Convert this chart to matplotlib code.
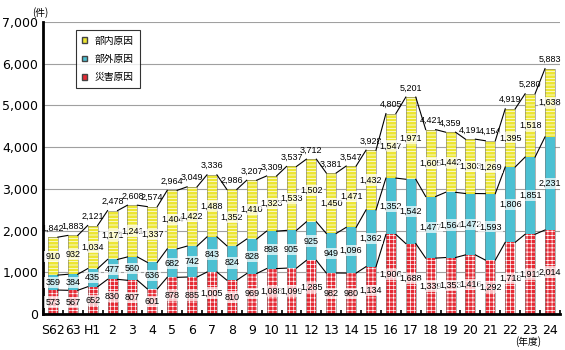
import matplotlib
matplotlib.use('Agg')
import matplotlib.pyplot as plt
from matplotlib.patches import Patch
import numpy as np

plt.rcParams['font.family'] = ['Noto Sans CJK JP', 'DejaVu Sans']
plt.rcParams['hatch.linewidth'] = 0.5

years = ['S62', '63', 'H1', '2', '3', '4', '5', '6', '7', '8', '9', '10', '11',
         '12', '13', '14', '15', '16', '17', '18', '19', '20', '21', '22', '23', '24']
disaster = [573, 567, 652, 830, 807, 601, 878, 885, 1005, 810, 969, 1088, 1099,
            1285, 982, 980, 1134, 1906, 1688, 1339, 1353, 1416, 1292, 1718, 1911, 2014]
external = [359, 384, 435, 477, 560, 636, 682, 742, 843, 824, 828, 898, 905,
            925, 949, 1096, 1362, 1352, 1542, 1477, 1564, 1472, 1593, 1806, 1851, 2231]
internal = [910, 932, 1034, 1171, 1241, 1337, 1404, 1422, 1488, 1352, 1410, 1323, 1533,
            1502, 1450, 1471, 1432, 1547, 1971, 1605, 1442, 1303, 1269, 1395, 1518, 1638]
series_names = ['部内原因', '部外原因', '災害原因']

RED = '#e62a34'
CYAN = '#4cc0d2'
YELLOW = '#ece632'
NUM_FONT = ['Liberation Sans Narrow', 'Liberation Sans', 'DejaVu Sans']

x = np.arange(len(years))
d = np.array(disaster)
e = np.array(external)
n = np.array(internal)
total = d + e + n
w = 0.5

fig = plt.figure(figsize=(5.65, 3.5), dpi=100)
ax = fig.add_axes([0.076, 0.103, 0.915, 0.834])

ax.set_ylim(0, 7000)
ax.set_xlim(-0.45, len(years) - 0.5)
ax.set_yticks(range(0, 7001, 1000))
ax.set_yticklabels([f'{v:,}' for v in range(0, 7001, 1000)], fontsize=9,
                   family='DejaVu Sans')
ax.yaxis.grid(True, color='#a0a0a0', linewidth=0.8)
ax.set_axisbelow(True)

# stacked segments, white pattern drawn over the fill
ax.bar(x, d, w, color=RED, edgecolor='white', hatch='++++', linewidth=0)
ax.bar(x, e, w, bottom=d, color=CYAN, edgecolor='white', linewidth=0)
ax.bar(x, n, w, bottom=d + e, color=YELLOW, edgecolor='white', hatch='-----', linewidth=0)
ax.bar(x, total, w, fill=False, edgecolor='#777777', linewidth=0.4)

# lines joining segment tops of neighbouring bars
for level in (d, d + e, total):
    for i in range(len(x) - 1):
        ax.plot([x[i] + w / 2, x[i + 1] - w / 2], [level[i], level[i + 1]],
                color='black', linewidth=0.8)

box = dict(boxstyle='square,pad=0.12', facecolor='white', edgecolor='none', alpha=0.7)
for i in range(len(x)):
    ax.text(x[i], d[i] / 2, f'{d[i]:,}', ha='center', va='center', fontsize=6.5,
            family=NUM_FONT, bbox=box)
    ax.text(x[i], d[i] + e[i] / 2, f'{e[i]:,}', ha='center', va='center', fontsize=6.5,
            family=NUM_FONT, bbox=box)
    ax.text(x[i], d[i] + e[i] + n[i] / 2, f'{n[i]:,}', ha='center', va='center',
            fontsize=6.5, family=NUM_FONT, bbox=box)
    ax.text(x[i], total[i] + 110, f'{total[i]:,}', ha='center', va='bottom',
            fontsize=6.5, family=NUM_FONT)

ax.set_xticks(x)
ax.set_xticklabels(years, fontsize=9, family='DejaVu Sans')
ax.set_xticks(np.arange(-0.5, len(years), 0.5), minor=True)
ax.tick_params(axis='x', which='major', length=0, pad=7)
ax.tick_params(axis='x', which='minor', length=3, width=1.2, direction='in')
ax.tick_params(axis='y', length=0)

for side in ('top', 'right'):
    ax.spines[side].set_visible(False)
for side in ('left', 'bottom'):
    ax.spines[side].set_linewidth(2)

ax.text(-0.02, 1.015, '(件)', transform=ax.transAxes, fontsize=7, ha='left', va='bottom')
ax.text(len(years) - 2.1, -0.095, '(年度)', transform=ax.get_xaxis_transform(),
        fontsize=7, ha='center', va='center')

# legend
handles = [Patch(facecolor=YELLOW, edgecolor='#444444'),
           Patch(facecolor=CYAN, edgecolor='#444444'),
           Patch(facecolor=RED, edgecolor='#444444')]
leg = ax.legend(handles, series_names, loc='upper left', bbox_to_anchor=(0.055, 0.99),
                fontsize=7, frameon=True, fancybox=False, edgecolor='black',
                handlelength=0.5, handleheight=0.5, handletextpad=0.8,
                borderpad=0.6, labelspacing=0.85)
leg.get_frame().set_linewidth(0.8)

fig.savefig('out.png', dpi=100)
